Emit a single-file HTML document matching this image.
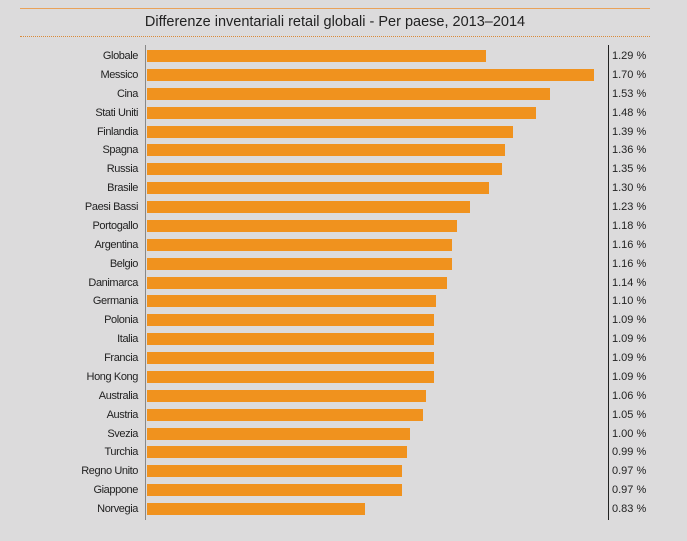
<!DOCTYPE html>
<html><head><meta charset="utf-8"><style>
body{margin:0;width:687px;height:541px;background:#dcdbdc;font-family:"Liberation Sans",sans-serif;position:relative;overflow:hidden}
.t{position:absolute;top:14px;left:0;width:670px;text-align:center;font-size:14.5px;color:#222}
.l{position:absolute;right:549px;font-size:11px;color:#222;text-align:right;white-space:nowrap;letter-spacing:-0.4px}
.b{position:absolute;left:147px;height:12px;background:#f0921e}
.v{position:absolute;left:612px;font-size:11px;color:#222;white-space:nowrap}
</style></head><body>
<div style="position:absolute;left:20px;top:8px;width:630px;height:1px;background:#e9a25a"></div>
<div class="t">Differenze inventariali retail globali - Per paese, 2013–2014</div>
<div style="position:absolute;left:20px;top:36px;width:630px;height:0;border-top:1px dotted #d98a3a"></div>
<div style="position:absolute;left:145px;top:45px;width:1px;height:475px;background:#888"></div>
<div style="position:absolute;left:608px;top:45px;width:1px;height:475px;background:#222"></div>
<div id="c"></div>
<script>
var d=[["Globale",1.29],["Messico",1.70],["Cina",1.53],["Stati Uniti",1.48],["Finlandia",1.39],["Spagna",1.36],["Russia",1.35],["Brasile",1.30],["Paesi Bassi",1.23],["Portogallo",1.18],["Argentina",1.16],["Belgio",1.16],["Danimarca",1.14],["Germania",1.10],["Polonia",1.09],["Italia",1.09],["Francia",1.09],["Hong Kong",1.09],["Australia",1.06],["Austria",1.05],["Svezia",1.00],["Turchia",0.99],["Regno Unito",0.97],["Giappone",0.97],["Norvegia",0.83]];
var h="";d.forEach(function(r,i){var y=56+i*18.875;
h+='<div class="l" style="top:'+(y-6)+'px">'+r[0]+'</div><div class="b" style="top:'+(y-6)+'px;width:'+(r[1]*263.8-1)+'px"></div><div class="v" style="top:'+(y-6)+'px">'+r[1].toFixed(2)+' %</div>';});
document.getElementById("c").innerHTML=h;
</script>
</body></html>
